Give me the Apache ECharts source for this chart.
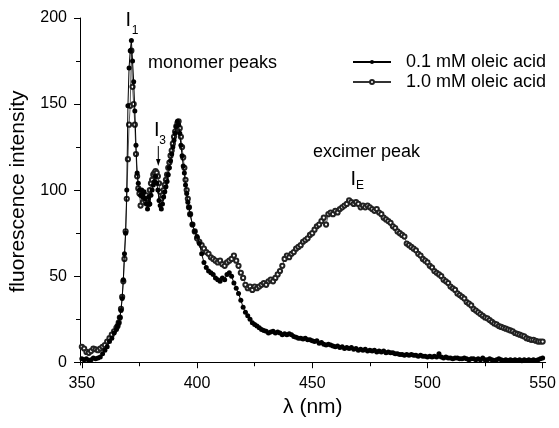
<!DOCTYPE html>
<html>
<head>
<meta charset="utf-8">
<script src="https://cdn.jsdelivr.net/npm/echarts@6/dist/echarts.min.js"></script>
<style>
html,body{margin:0;padding:0;background:#fff;}
#chart{width:559px;height:428px;}
</style>
</head>
<body>
<div id="chart"></div>
<script>
// wavelength grid (nm)
const lambda = [
350,351,352,353,354,355,356,357,358,359,360,361,362,363,364,
365,365.5,366,366.5,367,367.5,368,368.5,369,369.5,370,370.5,371,371.5,372,372.5,373,373.5,374,374.5,
375,375.5,376,376.5,377,377.5,378,378.5,379,379.5,380,380.5,381,381.5,382,382.5,383,383.5,384,384.5,
385,385.5,386,386.5,387,387.5,388,388.5,389,389.5,390,390.5,391,391.5,392,392.5,393,393.5,394,394.5,
395,395.5,396,396.5,
397,398,399,400,401,402,403,404,405,406,407,408,409,410,411,412,413,414,415,416,417,418,419,420,
421,422,423,424,425,426,427,428,429,430,431,432,433,434,435,436,437,438,439,440,441,442,443,444,445,
446,447,448,449,450,451,452,453,454,455,456,457,458,459,460,461,462,463,464,465,466,467,468,469,470,
471,472,473,474,475,476,477,478,479,480,481,482,483,484,485,486,487,488,489,490,491,492,493,494,495,
496,497,498,499,500,501,502,503,504,505,506,507,508,509,510,511,512,513,514,515,516,517,518,519,520,
521,522,523,524,525,526,527,528,529,530,531,532,533,534,535,536,537,538,539,540,541,542,543,544,545,
546,547,548,549,550
];

// 0.1 mM oleic acid (filled dots)
const low = [
2,1.5,2,1,1.5,2.5,2,2.5,3,5,7,9,12,14,17,
19,21,23,26,30,37,48,63,75,100,149,171,181,187,175,163,146,126,110,104,
100,97,100,96,99,95,92,89,96,92,97,100,103,105,108,104,100,94,91,89,
92,96,99,102,105,109,113,117,121,125,129,133,137,140,138,133,126,120,114,110,
103,98,93,90,
86,80,76,73,69,63,58,55,53,52,51,49,48,47,49,48,51,52,50,46,43,40,36,32,
29,27,25,23,22,21,20,19,18.5,18,17,17.5,18,17,17.5,17,16,16.5,16,16.5,16,15,14.5,14,14,
13.5,14,13,13,12.5,12,12.5,11,11.5,10.5,10,10.5,10,9.5,9,9.5,8.5,9,8,8.5,8,8.5,7.5,8,7,
7.5,7,7.5,6.5,7,6.5,7,6,6.5,6,6.5,5.5,6,5.5,5.5,5,5,4.5,4.5,4,4.5,4,4.5,4,4,
3.5,4,3.5,3.5,3,3.5,3,3.5,3,5,3,2.5,3,2.5,2.5,2,2.5,2.5,2,2,2.5,2,1.5,2,2,
1.5,2,1.5,2.5,1.5,1.5,2,1.5,1,1.5,2,1.5,1,1.5,1,1.5,1,1.5,1,1.5,0.8,1.5,1,1.5,1,
1.5,1,1.5,2,2.5
];

// 1.0 mM oleic acid (open circles)
const high = [
9,8,6,5.5,6.5,8,7.5,7,8,9,10,12,14,16,18,
20,21,23,26,31,38,47,60,76,95,118,138,149,181,160,150,138,121,108,101,
98,91,97,93,96,94,97,95,92,100,104,106,109,110,111,110,108,104,99,95,
97,100,103,106,109,113,116,120,123,127,131,134,137,139,140,136,131,125,119,113,
106,100,95,90,
86,80,76,72,70,68,66,64,63,61,60,59,58,59,57,56,58,59,60,62,59,56,52,49,
45,43,44,42,44,43,44,45,46,45,47,48,47,49,51,53,56,60,62,61,63,64,66,67,68,
70,71,72,74,75,77,79,80,82,84,80,86,87,86,88,87,89,90,91,92,94,93,92,93,92,
90,91,90,91,90,89,88,89,87,86,84,83,82,81,79,78,76,75,74,73,69,68,67,66,65,
63,62,60,59,58,56,55,53,52,51,50,48,47,46,44,43,42,40,39,38,37,35,34,33,31,
30,29,28,27,26,25.5,24.5,23.5,22.5,22,21,20.5,20,19.5,19,18.5,18,17,16.5,16,15.5,15,14,13.5,13,
13,12.5,12,12,12
];

const xMajor = [350,400,450,500,550];
const xMinor = [375,425,475,525];
const yMajor = [0,50,100,150,200];
const yMinor = [25,75,125,175];
const seriesNames = ['0.1 mM oleic acid','1.0 mM oleic acid'];

const FONT = 'Liberation Sans, Arial, Helvetica, sans-serif';
const chart = echarts.init(document.getElementById('chart'), null, {renderer:'canvas'});

function pairs(vals){ return vals.map((v,i)=>[lambda[i], v]); }

const xBase = {type:'value', min:349.2, max:551.3, splitLine:{show:false}};
const yBase = {type:'value', min:-1.6, max:200, splitLine:{show:false}};

chart.setOption({
  animation:false,
  backgroundColor:'#fff',
  grid:{left:80, right:11, top:18, bottom:63, containLabel:false},
  legend:{
    orient:'vertical', left:352, top:53, padding:0,
    itemWidth:38, itemHeight:5, itemGap:2,
    textStyle:{fontSize:18, color:'#000', fontFamily:FONT, padding:[0,0,0,10]},
    data:seriesNames
  },
  xAxis:[
    Object.assign({}, xBase, {
      position:'bottom',
      axisLine:{show:true, lineStyle:{color:'#000', width:1}},
      axisTick:{show:true, customValues:xMajor, length:6, lineStyle:{color:'#000', width:1}},
      axisLabel:{show:true, customValues:xMajor, margin:11, fontSize:16, color:'#000', fontFamily:FONT},
      name:'λ (nm)', nameLocation:'middle', nameGap:31,
      nameTextStyle:{fontSize:21, color:'#000', fontFamily:FONT}
    }),
    Object.assign({}, xBase, {
      position:'bottom',
      axisLine:{show:false},
      axisTick:{show:true, customValues:xMinor, length:4, lineStyle:{color:'#000', width:1}},
      axisLabel:{show:false}
    })
  ],
  yAxis:[
    Object.assign({}, yBase, {
      position:'left',
      axisLine:{show:true, lineStyle:{color:'#000', width:1}},
      axisTick:{show:true, customValues:yMajor, length:6, lineStyle:{color:'#000', width:1}},
      axisLabel:{show:true, customValues:yMajor, margin:13, fontSize:16, color:'#000', fontFamily:FONT},
      name:'fluorescence intensity', nameLocation:'middle', nameGap:51,
      nameTextStyle:{fontSize:21, color:'#000', fontFamily:FONT}
    }),
    Object.assign({}, yBase, {
      position:'left',
      axisLine:{show:false},
      axisTick:{show:true, customValues:yMinor, length:4, lineStyle:{color:'#000', width:1}},
      axisLabel:{show:false}
    })
  ],
  series:[
    {
      name:seriesNames[1], type:'line', xAxisIndex:0, yAxisIndex:0,
      data:pairs(high), symbol:'emptyCircle', symbolSize:4.2, showAllSymbol:true,
      lineStyle:{color:'#333', width:0.8}, itemStyle:{color:'#222', borderColor:'#222', borderWidth:0.8},
      emphasis:{disabled:true}, z:2
    },
    {
      name:seriesNames[0], type:'line', xAxisIndex:0, yAxisIndex:0,
      data:pairs(low), symbol:'circle', symbolSize:5, showAllSymbol:true,
      lineStyle:{color:'#000', width:1}, itemStyle:{color:'#000'},
      emphasis:{disabled:true}, z:3
    }
  ],
  graphic:[
    {type:'text', x:128.3, y:20.5, style:{text:'I', fontSize:20, fill:'#000', fontFamily:FONT, align:'center', verticalAlign:'middle'}},
    {type:'text', x:135, y:30.5, style:{text:'1', fontSize:12, fill:'#000', fontFamily:FONT, align:'center', verticalAlign:'middle'}},
    {type:'text', x:148, y:63, style:{text:'monomer peaks', fontSize:18, fill:'#000', fontFamily:FONT, align:'left', verticalAlign:'middle'}},
    {type:'text', x:156.7, y:130, style:{text:'I', fontSize:20, fill:'#000', fontFamily:FONT, align:'center', verticalAlign:'middle'}},
    {type:'text', x:162.5, y:141, style:{text:'3', fontSize:12, fill:'#000', fontFamily:FONT, align:'center', verticalAlign:'middle'}},
    {type:'line', shape:{x1:158.3, y1:146, x2:158.3, y2:160}, style:{stroke:'#000', lineWidth:1}},
    {type:'polygon', shape:{points:[[156,159],[160.6,159],[158.3,166]]}, style:{fill:'#000'}},
    {type:'text', x:313, y:152, style:{text:'excimer peak', fontSize:18, fill:'#000', fontFamily:FONT, align:'left', verticalAlign:'middle'}},
    {type:'text', x:353.3, y:179.5, style:{text:'I', fontSize:20, fill:'#000', fontFamily:FONT, align:'center', verticalAlign:'middle'}},
    {type:'text', x:360, y:186, style:{text:'E', fontSize:12, fill:'#000', fontFamily:FONT, align:'center', verticalAlign:'middle'}}
  ]
});
</script>
</body>
</html>
